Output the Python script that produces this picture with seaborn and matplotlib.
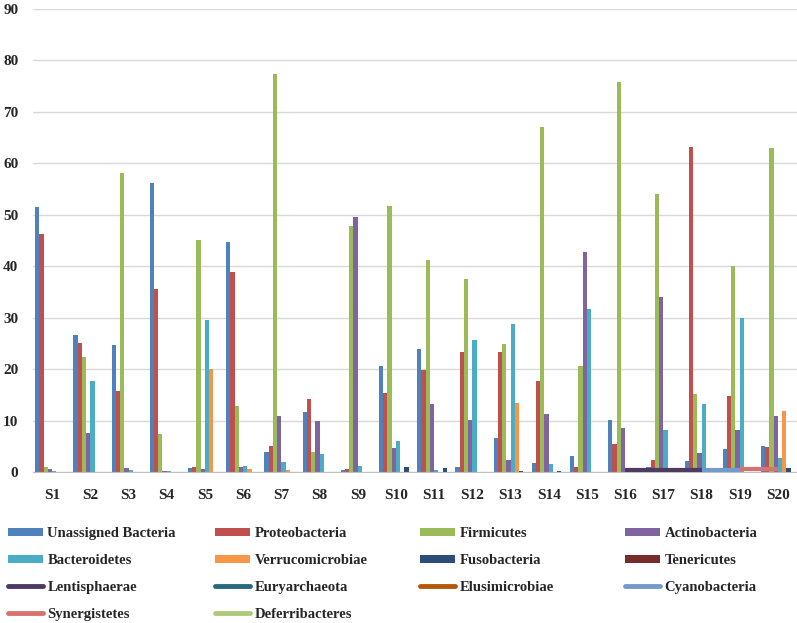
import numpy as np
import pandas as pd
import matplotlib
matplotlib.use('Agg')
import matplotlib.pyplot as plt
import seaborn as sns
from matplotlib.patches import Patch
from matplotlib.lines import Line2D

# Samples on the x axis
samples = ['S%d' % i for i in range(1, 21)]

# Bar series (relative abundance, %)
unassigned = [51.6, 26.6, 24.6, 56.2, 0.8, 44.8, 3.9, 11.6, 0.4, 20.6,
              23.9, 1.0, 6.7, 1.8, 3.1, 10.1, 1.0, 2.1, 4.5, 5.1]
proteobacteria = [46.3, 25.0, 15.8, 35.6, 1.0, 38.9, 5.0, 14.1, 0.5, 15.4,
                  19.9, 23.3, 23.3, 17.7, 1.0, 5.4, 2.3, 63.2, 14.8, 4.9]
firmicutes = [1.0, 22.4, 58.1, 7.4, 45.0, 12.8, 77.3, 3.9, 47.8, 51.8,
              41.2, 37.6, 24.9, 67.1, 20.7, 75.8, 54.0, 15.2, 40.1, 62.9]
actinobacteria = [0.5, 7.6, 0.7, 0.1, 0.5, 1.0, 10.9, 10.0, 49.6, 4.6,
                  13.2, 10.2, 2.3, 11.2, 42.8, 8.5, 34.0, 3.6, 8.2, 10.9]
bacteroidetes = [0.2, 17.7, 0.4, 0.2, 29.5, 1.2, 1.9, 3.5, 1.1, 6.1,
                 0.3, 25.7, 28.8, 1.6, 31.7, 0.0, 8.2, 13.2, 29.9, 2.7]
verrucomicrobiae = [0.0, 0.0, 0.0, 0.0, 20.0, 0.6, 0.3, 0.0, 0.0, 0.0,
                    0.0, 0.0, 13.4, 0.0, 0.0, 0.0, 0.0, 0.0, 0.0, 11.9]
fusobacteria = [0.0, 0.0, 0.0, 0.0, 0.0, 0.0, 0.0, 0.0, 0.0, 1.0,
                0.7, 0.0, 0.2, 0.1, 0.0, 0.0, 0.0, 0.0, 0.0, 0.8]
tenericutes = [0.0] * 20

# Line series (only a few non-empty points)
nan = np.nan
lentisphaerae = [nan] * 15 + [0.3, 0.3, 0.3, nan, nan]
euryarchaeota = [nan] * 20
elusimicrobiae = [nan] * 20
cyanobacteria = [nan] * 17 + [0.4, 0.4, nan]
synergistetes = [nan] * 18 + [0.5, 0.5]
deferribacteres = [nan] * 20

bar_names = ['Unassigned Bacteria', 'Proteobacteria', 'Firmicutes', 'Actinobacteria',
             'Bacteroidetes', 'Verrucomicrobiae', 'Fusobacteria', 'Tenericutes']
bar_values = [unassigned, proteobacteria, firmicutes, actinobacteria,
              bacteroidetes, verrucomicrobiae, fusobacteria, tenericutes]
bar_colors = ['#4F81BD', '#C0504D', '#9BBB59', '#8064A2',
              '#4BACC6', '#F79646', '#2C4D75', '#772C2A']

line_names = ['Lentisphaerae', 'Euryarchaeota', 'Elusimicrobiae',
              'Cyanobacteria', 'Synergistetes', 'Deferribacteres']
line_values = [lentisphaerae, euryarchaeota, elusimicrobiae,
               cyanobacteria, synergistetes, deferribacteres]
line_colors = ['#4D3B62', '#276A7C', '#B65708', '#729ACA', '#D9726F', '#AFC97A']

# Long table for seaborn
rows = []
for name, vals in zip(bar_names, bar_values):
    for s, v in zip(samples, vals):
        rows.append({'sample': s, 'phylum': name, 'value': v})
df = pd.DataFrame(rows)

sns.set_style('white')
plt.rcParams['font.family'] = ['Liberation Serif', 'DejaVu Serif']
plt.rcParams['font.weight'] = 'bold'

fig = plt.figure(figsize=(7.97, 6.23), dpi=100)
ax = fig.add_axes([33 / 797, 1 - 472 / 623, 1 - 33 / 797, (472 - 9) / 623])

sns.barplot(data=df, x='sample', y='value', hue='phylum', hue_order=bar_names,
            palette=bar_colors, width=0.89, dodge=True, saturation=1,
            linewidth=0, legend=False, ax=ax)

xs = np.arange(len(samples))
for vals, col in zip(line_values, line_colors):
    ax.plot(xs, vals, color=col, lw=3, solid_capstyle='butt', zorder=5)

ax.set_xlim(-0.5, len(samples) - 0.5)
ax.set_ylim(0, 90)
ax.set_yticks(range(0, 91, 10))
ax.set_xlabel('')
ax.set_ylabel('')
ax.yaxis.grid(True, color='#D9D9D9', lw=1)
ax.set_axisbelow(True)
for sp in ['left', 'right', 'top']:
    ax.spines[sp].set_visible(False)
ax.spines['bottom'].set_color('#BFBFBF')
ax.tick_params(axis='both', length=0, labelsize=11)
ax.tick_params(axis='x', pad=12)
ax.tick_params(axis='y', pad=10.5)
for lab in ax.get_xticklabels() + ax.get_yticklabels():
    lab.set_fontweight('bold')

# Legend: four columns, filled row-wise
handles = [Patch(facecolor=c, edgecolor='none') for c in bar_colors]
handles += [Line2D([0], [0], color=c, lw=3.5, solid_capstyle='round') for c in line_colors]
labels = bar_names + line_names
col_x = [8, 215, 420, 625]
for ci, x0 in enumerate(col_x):
    idx = list(range(ci, len(labels), 4))
    fig.legend([handles[i] for i in idx], [labels[i] for i in idx],
               loc='upper left', bbox_to_anchor=(x0 / 797, 1 - 527 / 623),
               frameon=False, ncol=1, handlelength=2.4, handleheight=0.5,
               handletextpad=0.3, labelspacing=0.95, borderpad=0, borderaxespad=0,
               prop={'family': 'Liberation Serif', 'weight': 'bold', 'size': 10.5})

fig.savefig('out.png', dpi=100)
